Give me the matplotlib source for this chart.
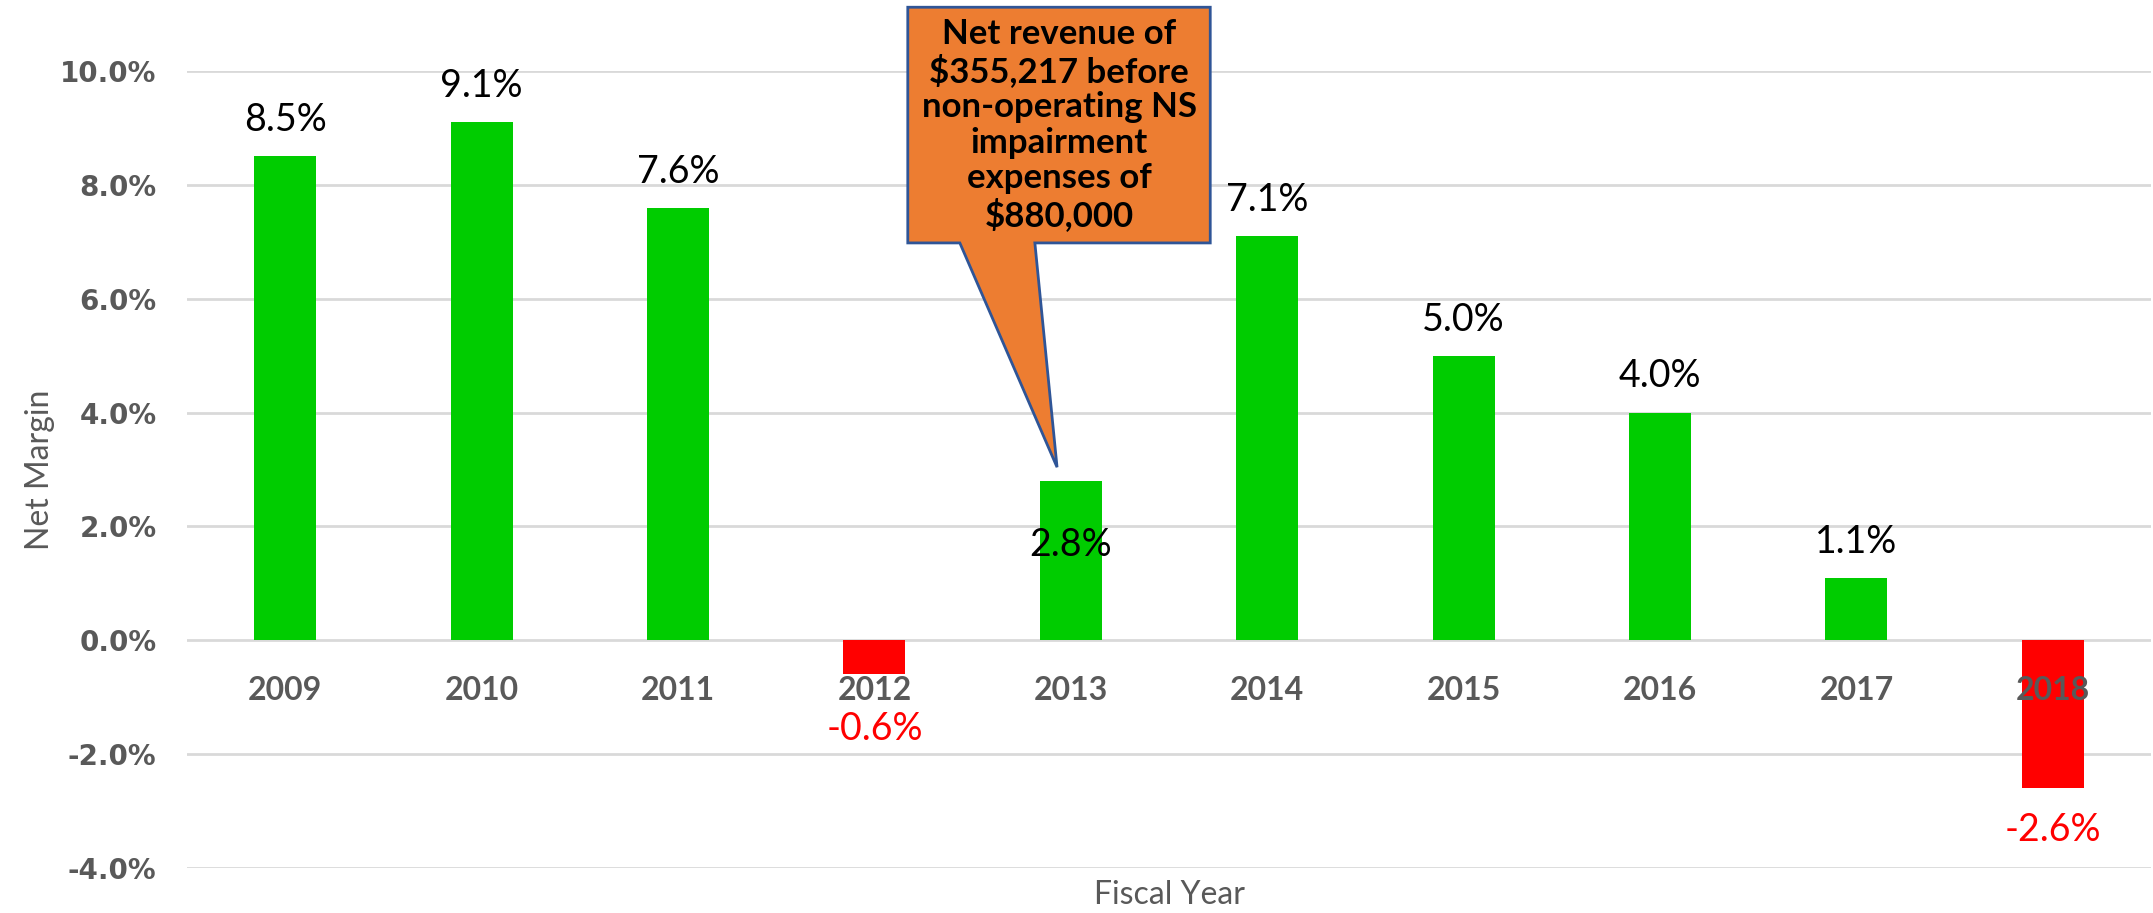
import matplotlib
matplotlib.use("Agg")
from matplotlib import pyplot as plt
from matplotlib.patches import Polygon
import numpy as np

# DATA
years = ["2009", "2010", "2011", "2012", "2013", "2014", "2015", "2016", "2017", "2018"]
net_margin = [8.5, 9.1, 7.6, -0.6, 2.8, 7.1, 5.0, 4.0, 1.1, -2.6]
y_ticks = [-4, -2, 0, 2, 4, 6, 8, 10]
callout_text = ("Net revenue of\n$355,217 before\nnon-operating NS\n"
                "impairment\nexpenses of\n$880,000")
callout_year = "2013"

GREEN = "#00CC00"
RED = "#FF0000"
GRAY = "#595959"
GRID = "#D9D9D9"

# labels moved by hand in the original (offset in points)
label_nudge = {"2012": -39, "2013": -46}

W, H = 2153, 913
fig = plt.figure(figsize=(W / 100, H / 100), dpi=100)
ax = fig.add_axes([187 / W, 1 - 868 / H, 1964 / W, 797 / H])

x = np.arange(len(years))
colors = [GREEN if v >= 0 else RED for v in net_margin]
ax.bar(x, net_margin, width=0.315, color=colors, zorder=2)

ax.set_xlim(-0.5, len(years) - 0.5)
ax.set_ylim(-4, 10)

# grid + y ticks
ax.set_yticks(y_ticks)
ax.set_yticklabels(["{:.1f}%".format(t) for t in y_ticks],
                   fontfamily="DejaVu Sans", fontweight="bold",
                   fontsize=20, color=GRAY)
ax.yaxis.grid(True, color=GRID, linewidth=2)
ax.yaxis.set_zorder(1)
ax.tick_params(axis="y", length=0, pad=22)
for s in ax.spines.values():
    s.set_visible(False)

# x tick labels next to the zero line, drawn over the bars
ax.spines["bottom"].set_position(("data", 0))
ax.set_xticks(x)
ax.set_xticklabels(years, fontfamily="Lato", fontweight="bold",
                   fontsize=23, color=GRAY)
ax.tick_params(axis="x", length=0, pad=26)
ax.xaxis.set_zorder(3)

# data labels
for i, v in enumerate(net_margin):
    if years[i] in label_nudge:
        off = label_nudge[years[i]]
    elif v >= 0:
        off = 26
    else:
        off = -30
    col = "black" if v >= 0 else RED
    ax.annotate("{:.1f}%".format(v), xy=(i, v), xytext=(0, off),
                textcoords="offset points", ha="center", va="center",
                fontfamily="Lato", fontsize=27, color=col, zorder=4)

# axis titles
ax.set_ylabel("Net Margin", fontfamily="Lato", fontsize=23, color=GRAY)
ax.yaxis.set_label_coords(-0.067, 0.5)
ax.text(0.5, -0.034, "Fiscal Year", transform=ax.transAxes, ha="center",
        va="center", fontfamily="Lato", fontsize=23, color=GRAY)

# callout box pointing at the 2013 bar
ci = years.index(callout_year)
cv = net_margin[ci]
box_l, box_r = ci - 0.83, ci + 0.71
box_b, box_t = 6.98, 11.12
shape = [(box_l, box_t), (box_r, box_t), (box_r, box_b),
         (ci - 0.183, box_b), (ci - 0.07, cv + 0.24),
         (ci - 0.565, box_b), (box_l, box_b)]
ax.add_patch(Polygon(shape, closed=True, facecolor="#ED7D31",
                     edgecolor="#2F5597", linewidth=2, zorder=5,
                     clip_on=False))
ax.text((box_l + box_r) / 2, (box_b + box_t) / 2, callout_text,
        ha="center", va="center", fontfamily="Lato", fontweight="bold",
        fontsize=25, linespacing=1.13, color="black", zorder=6)

fig.savefig("out.png", dpi=100)
